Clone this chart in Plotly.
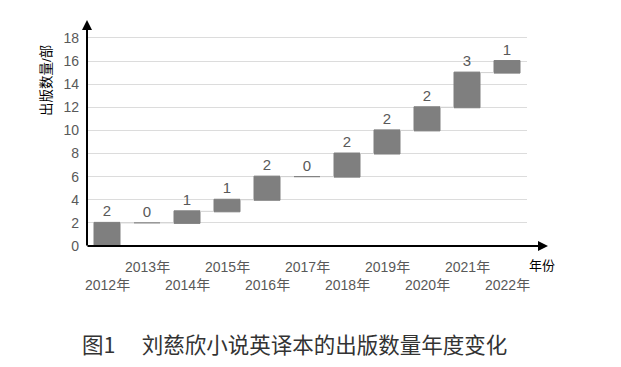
import plotly.graph_objects as go

years = ["2012年", "2013年", "2014年", "2015年", "2016年", "2017年",
         "2018年", "2019年", "2020年", "2021年", "2022年"]
increments = [2, 0, 1, 1, 2, 0, 2, 2, 2, 3, 1]
y_ticks = [0, 2, 4, 6, 8, 10, 12, 14, 16, 18]
caption = "图1　 刘慈欣小说英译本的出版数量年度变化"
y_title = "出版数量/部"
x_title = "年份"

# page body has an 8px default margin; size the figure to fit the window
OFF = 8
W, H = 621 - OFF, 367 - OFF
L, T = 87 - OFF, 20 - OFF
R = W - (527 - OFF)
B = H - (246 - OFF)
FONT = "Liberation Sans, Noto Sans CJK SC, sans-serif"
HALF = 0.325  # half bar width in category units

idx = list(range(len(years)))
cum = []
s = 0
for v in increments:
    cum.append(s)
    s += v

fig = go.Figure(go.Waterfall(
    x=idx,
    y=increments,
    measure=["relative"] * len(years),
    text=[str(v) for v in increments],
    textposition="outside",
    outsidetextfont=dict(size=15, color="#595959", family=FONT),
    textfont=dict(size=15, color="#595959", family=FONT),
    increasing=dict(marker=dict(color="#7f7f7f", line=dict(color="#7f7f7f", width=1))),
    connector=dict(line=dict(color="#d0d0d0", width=1)),
    cliponaxis=False,
    hoverinfo="skip",
))

# zero-increment bars drawn as thin lines at the running total
zx, zy = [], []
for i, v in enumerate(increments):
    if v == 0:
        zx += [i - HALF, i + HALF, None]
        zy += [cum[i], cum[i], None]
fig.add_trace(go.Scatter(x=zx, y=zy, mode="lines", line=dict(color="#7f7f7f", width=1.2),
                         hoverinfo="skip", showlegend=False))

fig.update_layout(
    width=W, height=H,
    margin=dict(l=L, r=R, t=T, b=B, autoexpand=False),
    paper_bgcolor="white", plot_bgcolor="white",
    showlegend=False,
    waterfallgap=0.35,
    font=dict(family=FONT, color="#595959", size=14),
)
fig.update_xaxes(
    range=[-0.5, len(years) - 0.5], showticklabels=False, ticks="",
    showgrid=False, showline=False, zeroline=False, automargin=False,
)
fig.update_yaxes(
    range=[0, 19.55], tickvals=y_ticks, ticktext=[str(v) for v in y_ticks],
    tickfont=dict(size=14, color="#595959"), ticklabelstandoff=7,
    showgrid=True, gridcolor="#dcdcdc", gridwidth=1,
    zeroline=False, showline=False, ticks="", ticklen=0, automargin=False,
)

pw = W - L - R
ph = H - T - B


def px_x(p):
    return (p - OFF - L) / pw


def px_y(p):
    return 1 - (p - OFF - T) / ph


ann = []
# staggered x tick labels
for i, lab in enumerate(years):
    upper = (i % 2 == 1)
    ann.append(dict(x=i, xref="x", y=0, yref="y", text=lab, showarrow=False,
                    xanchor="center", yanchor="middle",
                    yshift=-21 if upper else -39, font=dict(size=14, color="#595959")))
# x axis arrow
ann.append(dict(x=px_x(548), xref="paper", y=0, yref="y", ax=-(548 - 87 + 1), ay=0,
                text="", showarrow=True,
                arrowhead=2, arrowsize=1, arrowwidth=2, arrowcolor="black"))
# y axis arrow
ann.append(dict(x=0, xref="paper", y=1, yref="paper", ax=0, ay=ph + 1,
                text="", showarrow=True, arrowhead=2, arrowsize=1,
                arrowwidth=2, arrowcolor="black"))
ann.append(dict(x=px_x(542), xref="paper", y=px_y(265), yref="paper",
                xanchor="center", yanchor="middle",
                text=x_title, showarrow=False, font=dict(size=13, color="black")))
ann.append(dict(x=px_x(46), xref="paper", y=px_y(81), yref="paper",
                xanchor="center", yanchor="middle",
                text=y_title, textangle=-90, showarrow=False,
                font=dict(size=13.5, color="black")))
ann.append(dict(x=px_x(80), xref="paper", xanchor="left",
                y=px_y(343), yref="paper", yanchor="middle",
                text=caption, showarrow=False,
                font=dict(size=21.5, color="#333333", family="Noto Sans CJK SC")))
fig.update_layout(annotations=ann)

fig.write_html("out.html")
